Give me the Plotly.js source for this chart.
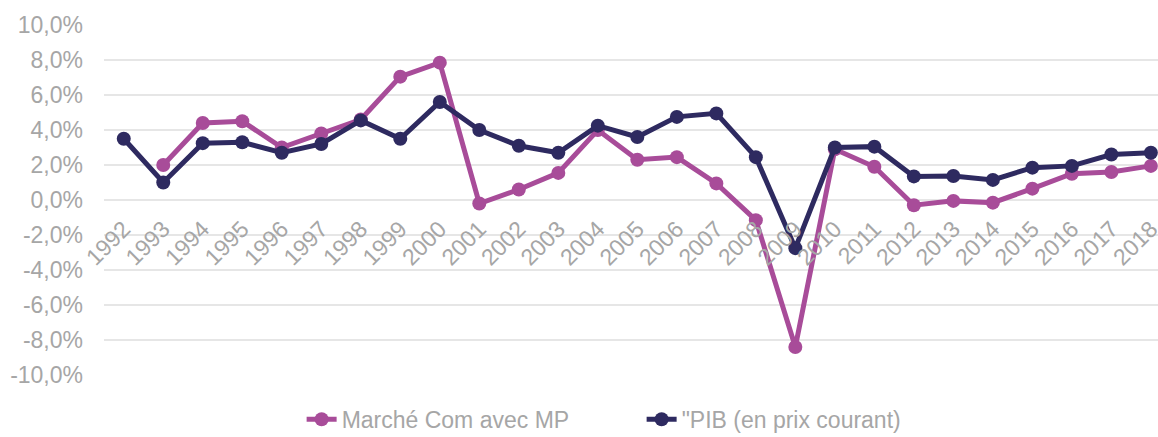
<!DOCTYPE html>
<html><head><meta charset="utf-8">
<script src="https://cdn.plot.ly/plotly-3.0.1.min.js"></script>
<style>html,body{margin:0;padding:0;background:#fff}#c{width:1158px;height:437px}</style>
</head><body><div id="c"></div>
<script>
const years = ['1992','1993','1994','1995','1996','1997','1998','1999','2000','2001','2002','2003','2004','2005','2006','2007','2008','2009','2010','2011','2012','2013','2014','2015','2016','2017','2018'];
const marcheCom = [null,2.0,4.4,4.5,3.0,3.8,4.6,7.05,7.85,-0.2,0.6,1.55,4.0,2.3,2.45,0.95,-1.15,-8.4,2.9,1.9,-0.3,-0.05,-0.15,0.65,1.5,1.6,1.95];
const pib = [3.5,1.0,3.25,3.3,2.7,3.2,4.55,3.5,5.6,4.0,3.1,2.7,4.25,3.6,4.75,4.95,2.45,-2.75,3.0,3.05,1.35,1.37,1.15,1.85,1.95,2.6,2.7];
const yTickVals = [-10,-8,-6,-4,-2,0,2,4,6,8,10];
const yTickText = ['-10,0%','-8,0%','-6,0%','-4,0%','-2,0%','0,0%','2,0%','4,0%','6,0%','8,0%','10,0%'];
const names = ['Marché Com avec MP','"PIB (en prix courant)'];

const gray = '#a6a6a6';
const traces = [
  {x: years, y: marcheCom, name: names[0], type: 'scatter', mode: 'lines+markers',
   line: {color: '#a84c99', width: 5}, marker: {color: '#a84c99', size: 14}, connectgaps: false},
  {x: years, y: pib, name: names[1], type: 'scatter', mode: 'lines+markers',
   line: {color: '#2e2a60', width: 5}, marker: {color: '#2e2a60', size: 14}}
];
const layout = {
  width: 1158, height: 437,
  margin: {l: 104, r: 0, t: 25, b: 62, autoexpand: false},
  paper_bgcolor: '#fff', plot_bgcolor: '#fff',
  font: {family: 'Liberation Sans, Arial, sans-serif', color: gray, size: 23},
  showlegend: true,
  legend: {orientation: 'h', x: 0.1875, xanchor: 'left', y: -0.065, yanchor: 'top',
           font: {size: 23, color: gray}, entrywidth: 295, entrywidthmode: 'pixels'},
  xaxis: {type: 'category', range: [-0.5, 26.18], anchor: 'free', position: 0.5,
          showgrid: false, zeroline: false, showline: false, ticks: '',
          tickangle: -45, tickfont: {size: 23, color: gray}, ticklabelstandoff: 10},
  yaxis: {range: [-10, 10], tickvals: yTickVals, ticktext: yTickText,
          showgrid: true, gridcolor: '#e6e6e6', gridwidth: 1.5, zeroline: false,
          showline: false, ticks: '', tickfont: {size: 23, color: gray}, ticklabelstandoff: 20}
};
Plotly.newPlot('c', traces, layout, {displayModeBar: false});
</script></body></html>
